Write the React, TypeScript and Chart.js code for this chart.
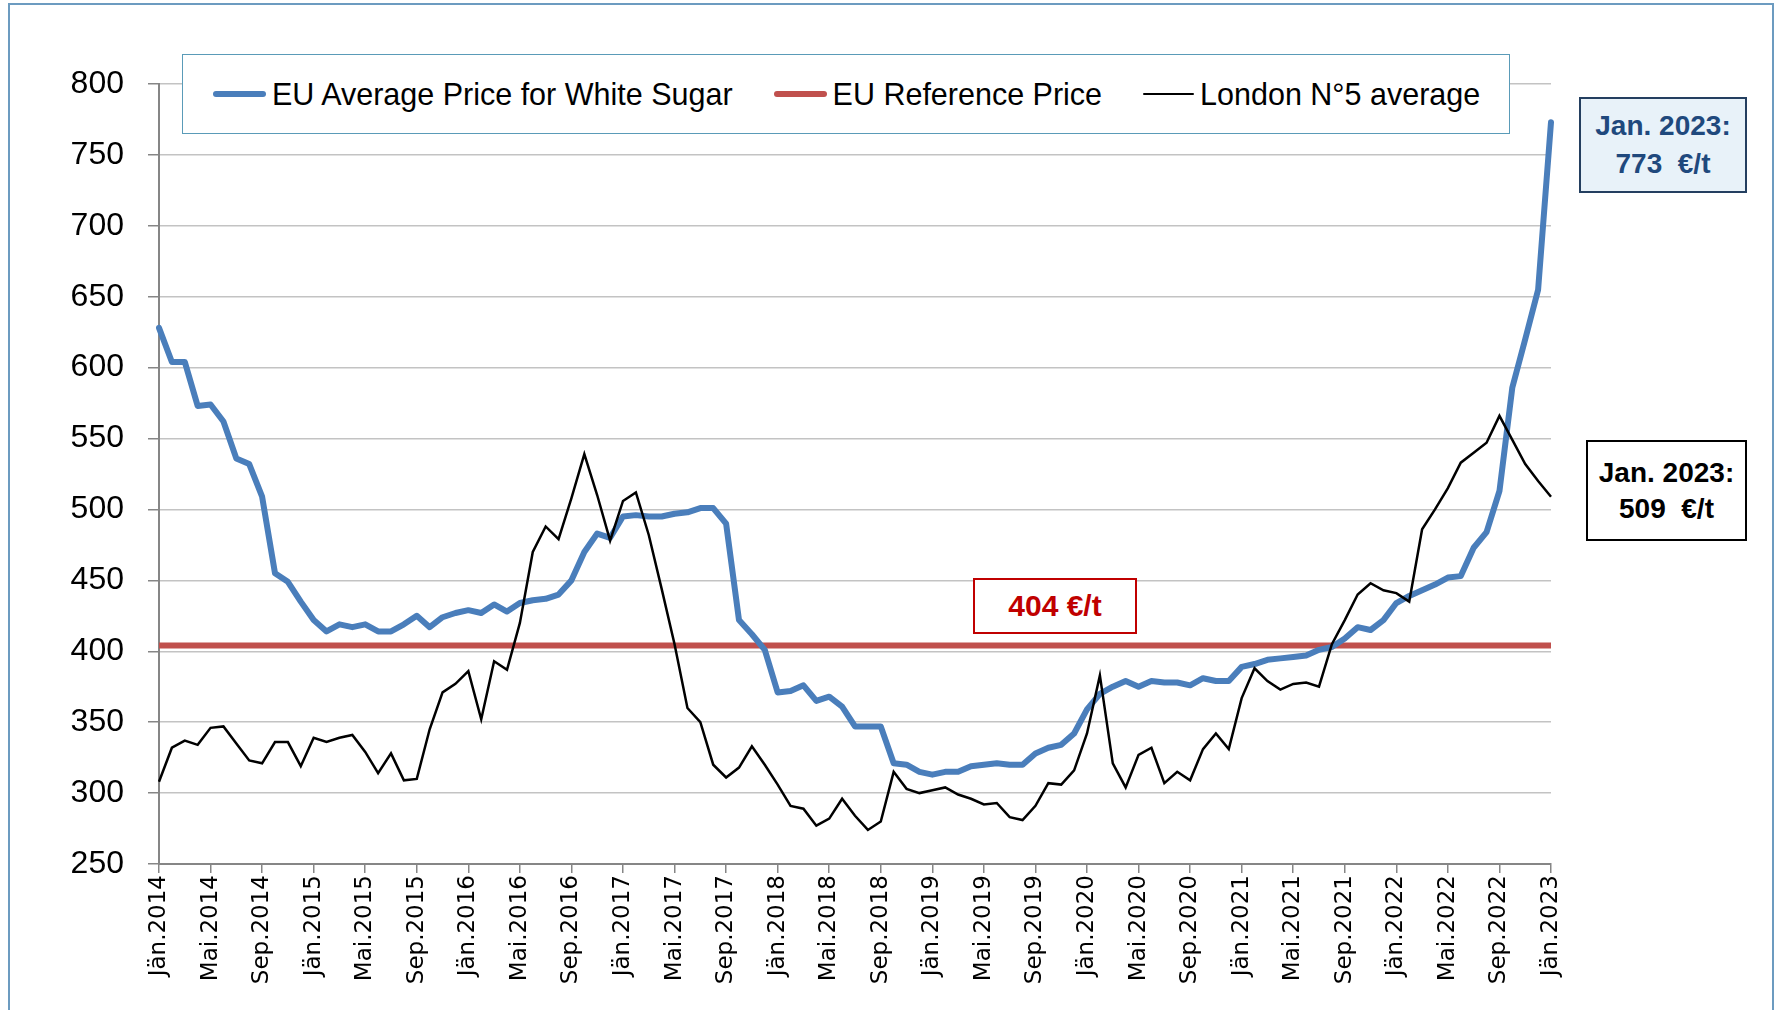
import React, { useEffect, useRef } from 'react';
import { Chart, registerables } from 'chart.js';

Chart.register(...registerables);

// ---- Data ----
const monthNames = ['Jän', 'Feb', 'Mär', 'Apr', 'Mai', 'Jun', 'Jul', 'Aug', 'Sep', 'Okt', 'Nov', 'Dez'];
const years = [2014, 2015, 2016, 2017, 2018, 2019, 2020, 2021, 2022, 2023];
const monthCount = 109; // Jän.2014 .. Jän.2023
const categories: string[] = [];
for (const y of years) {
  for (const m of monthNames) {
    if (categories.length < monthCount) categories.push(`${m}.${y}`);
  }
}
const labelEvery = 4;

const euAveragePrice = [
  628, 604, 604, 573, 574, 562, 536, 532, 509, 455, 449, 435,
  422, 414, 419, 417, 419, 414, 414, 419, 425, 417, 424, 427,
  429, 427, 433, 428, 434, 436, 437, 440, 450, 470, 483, 480,
  495, 496, 495, 495, 497, 498, 501, 501, 490, 422, 412, 401,
  371, 372, 376, 365, 368, 361, 347, 347, 347, 321, 320, 315,
  313, 315, 315, 319, 320, 321, 320, 320, 328, 332, 334, 342,
  359, 370, 375, 379, 375, 379, 378, 378, 376, 381, 379, 379,
  389, 391, 394, 395, 396, 397, 401, 403, 409, 417, 415, 422,
  434, 439, 443, 447, 452, 453, 473, 484, 513, 586, 620, 655,
  773,
];

const londonNo5Average = [
  308, 332, 337, 334, 346, 347, 335, 323, 321, 336, 336, 319,
  339, 336, 339, 341, 329, 314, 328, 309, 310, 345, 371, 377,
  386, 352, 393, 387, 420, 470, 488, 479, 508, 539, 510, 478,
  506, 512, 482, 444, 405, 360, 350, 320, 311, 318, 333, 320,
  306, 291, 289, 277, 282, 296, 284, 274, 280, 315, 303, 300,
  302, 304, 299, 296, 292, 293, 283, 281, 291, 307, 306, 316,
  342, 383, 321, 304, 327, 332, 307, 315, 309, 331, 342, 331,
  367, 388, 379, 373, 377, 378, 375, 405, 422, 440, 448, 443,
  441, 435, 486, 500, 515, 533, 540, 547, 566, 549, 532, 520,
  509,
];

const euReferenceLevel = 404;
const euReferencePrice = categories.map(() => euReferenceLevel);

const yTicks = [250, 300, 350, 400, 450, 500, 550, 600, 650, 700, 750, 800];

const seriesNames = ['EU Average Price for White Sugar', 'EU Reference Price', 'London N°5 average'];
const seriesColors = ['#4A7EBB', '#C0504D', '#000000'];
const seriesWidths = [6, 6, 2.5];

const lastLabel = 'Jan. 2023:';

export default function App() {
  const canvasRef = useRef<HTMLCanvasElement | null>(null);

  useEffect(() => {
    const canvas = canvasRef.current;
    if (!canvas) return;
    const chart = new Chart(canvas, {
      type: 'line',
      data: {
        labels: categories,
        datasets: [
          {
            label: seriesNames[2],
            data: londonNo5Average,
            borderColor: seriesColors[2],
            borderWidth: seriesWidths[2],
            pointRadius: 0,
            tension: 0,
            order: 0,
          },
          {
            label: seriesNames[0],
            data: euAveragePrice,
            borderColor: seriesColors[0],
            borderWidth: seriesWidths[0],
            borderCapStyle: 'round',
            borderJoinStyle: 'round',
            pointRadius: 0,
            tension: 0,
            order: 1,
          },
          {
            label: seriesNames[1],
            data: euReferencePrice,
            borderColor: seriesColors[1],
            borderWidth: seriesWidths[1],
            pointRadius: 0,
            tension: 0,
            order: 2,
          },
        ],
      },
      options: {
        animation: false,
        responsive: false,
        maintainAspectRatio: false,
        layout: { padding: { left: 9, right: 226, top: 84, bottom: 0 } },
        plugins: { legend: { display: false }, tooltip: { enabled: false } },
        scales: {
          x: {
            type: 'category',
            offset: false,
            grid: {
              display: true,
              drawOnChartArea: false,
              drawTicks: true,
              tickLength: 9,
              lineWidth: 1.5,
              tickColor: (ctx: any) => (ctx.index % labelEvery === 0 ? '#868686' : 'rgba(0,0,0,0)'),
            },
            border: { color: '#868686', width: 2 },
            ticks: {
              autoSkip: false,
              maxRotation: 90,
              minRotation: 90,
              padding: 2,
              color: '#000000',
              font: { family: 'DejaVu Sans', size: 23 },
              callback: (_v: any, i: number) => (i % labelEvery === 0 ? categories[i] : ''),
            },
            afterFit: (s: any) => {
              s.height = 146;
            },
          },
          y: {
            min: yTicks[0],
            max: yTicks[yTicks.length - 1],
            grid: { color: '#C3C3C3', lineWidth: 1.5, tickLength: 11, tickColor: '#868686' },
            border: { color: '#868686', width: 2 },
            ticks: {
              stepSize: yTicks[1] - yTicks[0],
              padding: 24,
              color: '#000000',
              font: { family: 'Liberation Sans', size: 32 },
            },
            afterFit: (s: any) => {
              s.width = 150;
            },
          },
        },
      },
    } as any);
    return () => chart.destroy();
  }, []);

  const boxText: React.CSSProperties = {
    position: 'absolute',
    boxSizing: 'border-box',
    display: 'flex',
    flexDirection: 'column',
    justifyContent: 'center',
    alignItems: 'center',
    fontFamily: 'Liberation Sans',
    fontWeight: 'bold',
    whiteSpace: 'pre',
  };

  return (
    <div style={{ position: 'fixed', left: 0, top: 0, width: 1777, height: 1010, overflow: 'hidden', background: '#ffffff' }}>
      <div
        style={{
          position: 'absolute',
          left: 8,
          top: 3,
          width: 1766,
          height: 1100,
          boxSizing: 'border-box',
          border: '2px solid #6C9BC0',
        }}
      />
      <canvas ref={canvasRef} width={1777} height={1010} style={{ position: 'absolute', left: 0, top: 0, display: 'block' }} />

      {/* legend */}
      <div
        style={{
          position: 'absolute',
          left: 182,
          top: 54,
          width: 1328,
          height: 80,
          boxSizing: 'border-box',
          border: '1.5px solid #5A9BB8',
          background: '#ffffff',
          display: 'flex',
          alignItems: 'center',
          paddingLeft: 30,
          fontFamily: 'Liberation Sans',
          fontSize: 30.5,
          color: '#000000',
          whiteSpace: 'nowrap',
          overflow: 'hidden',
        }}
      >
        {[0, 1, 2].map((i) => (
          <div key={i} style={{ display: 'flex', alignItems: 'center', flexShrink: 0, marginRight: i < 2 ? 41 : 0 }}>
            <div
              style={{
                width: i === 2 ? 51 : 53,
                height: seriesWidths[i],
                borderRadius: 3,
                background: seriesColors[i],
                marginRight: 6,
                flexShrink: 0,
              }}
            />
            <span style={{ whiteSpace: 'nowrap' }}>{seriesNames[i]}</span>
          </div>
        ))}
      </div>

      {/* reference price label */}
      <div
        style={{
          ...boxText,
          left: 973,
          top: 578,
          width: 164,
          height: 56,
          border: '2px solid #C00000',
          background: '#ffffff',
          color: '#C00000',
          fontSize: 30,
        }}
      >
        {`${euReferenceLevel} €/t`}
      </div>

      {/* EU average last value */}
      <div
        style={{
          ...boxText,
          left: 1579,
          top: 97,
          width: 168,
          height: 96,
          border: '2px solid #243F60',
          background: '#E8F2F9',
          color: '#1F497D',
          fontSize: 28,
          lineHeight: '38px',
        }}
      >
        <div>{lastLabel}</div>
        <div>{`${euAveragePrice[euAveragePrice.length - 1]}  €/t`}</div>
      </div>

      {/* London last value */}
      <div
        style={{
          ...boxText,
          left: 1586,
          top: 440,
          width: 161,
          height: 101,
          border: '2px solid #000000',
          background: '#ffffff',
          color: '#000000',
          fontSize: 28,
          lineHeight: '36px',
        }}
      >
        <div>{lastLabel}</div>
        <div>{`${londonNo5Average[londonNo5Average.length - 1]}  €/t`}</div>
      </div>
    </div>
  );
}
